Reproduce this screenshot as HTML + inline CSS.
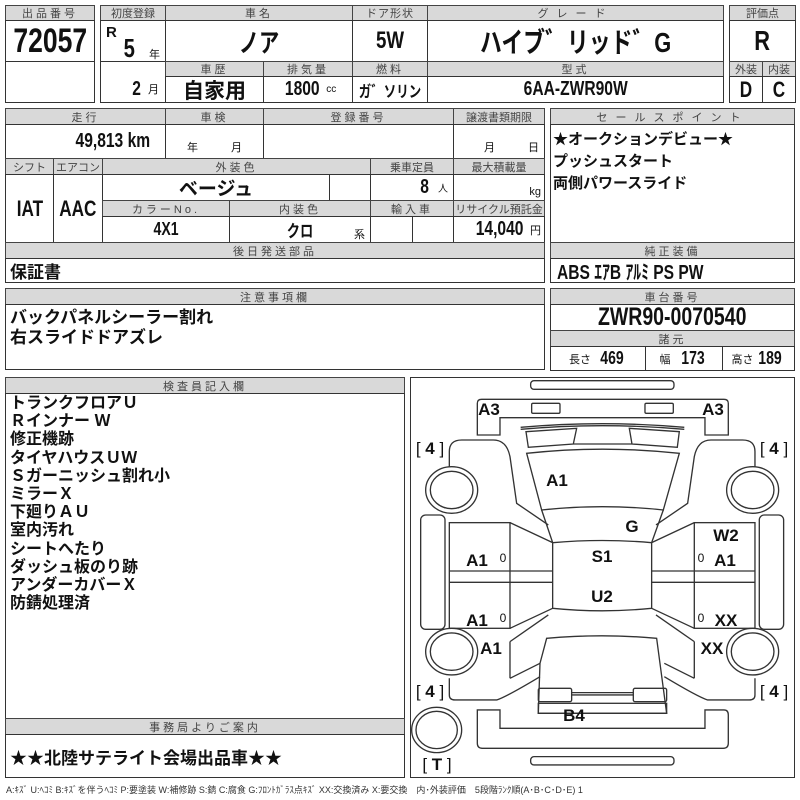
<!DOCTYPE html>
<html><head><meta charset="utf-8"><style>
*{margin:0;padding:0}
body{width:800px;height:800px;background:#fff;position:relative;overflow:hidden;font-family:"Liberation Sans","Noto Sans CJK JP",sans-serif;color:#111}
.c{position:absolute;box-sizing:border-box;border:1px solid #333;display:flex;align-items:center;justify-content:center;white-space:nowrap}
.g{background:#d9d9d9;font-size:11px;color:#444;letter-spacing:3px;border-color:#444}
.b{font-weight:bold}
.n{display:inline-block;transform:scaleX(.78);font-weight:bold}
.t{position:absolute;white-space:nowrap}
.lab{position:absolute;font-weight:bold;font-size:17px;transform:translate(-50%,-50%);white-space:nowrap}
</style></head><body>
<div class="c g" style="left:5px;top:5px;width:90px;height:16px">出品番号</div>
<div class="c" style="left:5px;top:20px;width:90px;height:42px;font-size:34px"><span class="n">72057</span></div>
<div class="c" style="left:5px;top:61px;width:90px;height:42px"></div>
<div class="c g" style="left:100px;top:5px;width:66px;height:16px;letter-spacing:0">初度登録</div>
<div class="c" style="left:100px;top:20px;width:66px;height:42px"></div>
<div class="t b" style="left:106px;top:24px;font-size:15px">R</div>
<div class="t" style="left:122px;top:33px;font-size:26px"><span class="n">5</span></div>
<div class="t" style="left:149px;top:46px;font-size:11px">年</div>
<div class="c" style="left:100px;top:61px;width:66px;height:42px;justify-content:flex-end;padding-right:6px;padding-top:14px;font-size:20px"><span class="n">2</span><span style="font-size:11px;margin-left:6px">月</span></div>
<div class="c g" style="left:165px;top:5px;width:188px;height:16px">車名</div>
<div class="c" style="left:165px;top:20px;width:188px;height:42px;font-size:26px"><span class="n">ノア</span></div>
<div class="c g" style="left:352px;top:5px;width:76px;height:16px;letter-spacing:1px">ドア形状</div>
<div class="c" style="left:352px;top:20px;width:76px;height:42px;font-size:24px"><span class="n">5W</span></div>
<div class="c g" style="left:427px;top:5px;width:297px;height:16px;letter-spacing:8px">グレード</div>
<div class="c" style="left:427px;top:20px;width:297px;height:42px;font-size:28px"><span class="n">ハイブ゛リッド゛G</span></div>
<div class="c g" style="left:165px;top:61px;width:99px;height:16px">車歴</div>
<div class="c" style="left:165px;top:76px;width:99px;height:27px;font-size:21px;font-weight:bold">自家用</div>
<div class="c g" style="left:263px;top:61px;width:90px;height:16px">排気量</div>
<div class="c" style="left:263px;top:76px;width:90px;height:27px;font-size:20px"><span class="n">1800</span><span style="font-size:10px;margin-left:2px">cc</span></div>
<div class="c g" style="left:352px;top:61px;width:76px;height:16px">燃料</div>
<div class="c" style="left:352px;top:76px;width:76px;height:27px;font-size:16px"><span class="n">ガ゛ソリン</span></div>
<div class="c g" style="left:427px;top:61px;width:297px;height:16px">型式</div>
<div class="c" style="left:427px;top:76px;width:297px;height:27px;font-size:20px"><span class="n">6AA-ZWR90W</span></div>
<div class="c g" style="left:729px;top:5px;width:67px;height:16px;letter-spacing:0">評価点</div>
<div class="c" style="left:729px;top:20px;width:67px;height:42px;font-size:28px"><span class="n">R</span></div>
<div class="c g" style="left:729px;top:61px;width:34px;height:16px;letter-spacing:0">外装</div>
<div class="c g" style="left:762px;top:61px;width:34px;height:16px;letter-spacing:0">内装</div>
<div class="c" style="left:729px;top:76px;width:34px;height:27px;font-size:22px"><span class="n">D</span></div>
<div class="c" style="left:762px;top:76px;width:34px;height:27px;font-size:22px"><span class="n">C</span></div>
<div class="c g" style="left:5px;top:108px;width:161px;height:17px">走行</div>
<div class="c g" style="left:165px;top:108px;width:99px;height:17px">車検</div>
<div class="c g" style="left:263px;top:108px;width:191px;height:17px">登録番号</div>
<div class="c g" style="left:453px;top:108px;width:92px;height:17px;letter-spacing:0">譲渡書類期限</div>
<div class="c" style="left:5px;top:124px;width:161px;height:35px;justify-content:flex-end;padding-right:4px;font-size:20px"><span class="n">49,813 km</span></div>
<div class="c" style="left:165px;top:124px;width:99px;height:35px;align-items:flex-end;font-size:11px;padding-bottom:3px">年　　　月</div>
<div class="c" style="left:263px;top:124px;width:191px;height:35px"></div>
<div class="c" style="left:453px;top:124px;width:92px;height:35px;align-items:flex-end;justify-content:flex-end;font-size:11px;padding:0 5px 3px 0">月　　　日</div>
<div class="c g" style="left:5px;top:158px;width:49px;height:17px;letter-spacing:0">シフト</div>
<div class="c g" style="left:53px;top:158px;width:50px;height:17px;letter-spacing:0">エアコン</div>
<div class="c g" style="left:102px;top:158px;width:269px;height:17px">外装色</div>
<div class="c g" style="left:370px;top:158px;width:84px;height:17px;letter-spacing:0">乗車定員</div>
<div class="c g" style="left:453px;top:158px;width:92px;height:17px;letter-spacing:0">最大積載量</div>
<div class="c" style="left:5px;top:174px;width:49px;height:69px;font-size:22px"><span class="n">IAT</span></div>
<div class="c" style="left:53px;top:174px;width:50px;height:69px;font-size:22px"><span class="n">AAC</span></div>
<div class="c" style="left:102px;top:174px;width:228px;height:27px;font-size:19px;font-weight:bold">ベージュ</div>
<div class="c" style="left:329px;top:174px;width:42px;height:27px"></div>
<div class="c" style="left:370px;top:174px;width:84px;height:27px;justify-content:flex-end;padding-right:5px;font-size:20px"><span class="n">8</span><span style="font-size:10px;margin-left:8px">人</span></div>
<div class="c" style="left:453px;top:174px;width:92px;height:27px;justify-content:flex-end;align-items:flex-end;padding:0 3px 2px 0;font-size:11px">kg</div>
<div class="c g" style="left:102px;top:200px;width:128px;height:17px">カラーNo.</div>
<div class="c g" style="left:229px;top:200px;width:142px;height:17px">内装色</div>
<div class="c g" style="left:370px;top:200px;width:84px;height:17px">輸入車</div>
<div class="c g" style="left:453px;top:200px;width:92px;height:17px;letter-spacing:0">リサイクル預託金</div>
<div class="c" style="left:102px;top:216px;width:128px;height:27px;font-size:18px"><span class="n">4X1</span></div>
<div class="c" style="left:229px;top:216px;width:142px;height:27px;font-size:17px"><span class="n">クロ</span></div>
<div class="t" style="left:354px;top:226px;font-size:11px">系</div>
<div class="c" style="left:370px;top:216px;width:43px;height:27px"></div>
<div class="c" style="left:412px;top:216px;width:42px;height:27px"></div>
<div class="c" style="left:453px;top:216px;width:92px;height:27px;justify-content:flex-end;padding-right:3px;font-size:20px"><span class="n">14,040</span><span style="font-size:11px">円</span></div>
<div class="c g" style="left:5px;top:242px;width:540px;height:17px">後日発送部品</div>
<div class="c" style="left:5px;top:258px;width:540px;height:25px;justify-content:flex-start;padding-left:4px;font-size:17px;font-weight:bold">保証書</div>
<div class="c g" style="left:550px;top:108px;width:245px;height:17px;letter-spacing:8px">セールスポイント</div>
<div class="c" style="left:550px;top:124px;width:245px;height:119px;display:block;padding:4px 0 0 2px;font-size:15px;font-weight:bold;line-height:22px">★オークションデビュー★<br>プッシュスタート<br>両側パワースライド</div>
<div class="c g" style="left:550px;top:242px;width:245px;height:17px">純正装備</div>
<div class="c" style="left:550px;top:258px;width:245px;height:25px;justify-content:flex-start;padding-left:6px;font-size:20px"><span class="n" style="transform-origin:left">ABS ｴｱB ｱﾙﾐ PS PW</span></div>
<div class="c g" style="left:5px;top:288px;width:540px;height:17px">注意事項欄</div>
<div class="c" style="left:5px;top:304px;width:540px;height:66px;display:block;padding:3px 0 0 4px;font-size:17px;font-weight:bold;line-height:20px">バックパネルシーラー割れ<br>右スライドドアズレ</div>
<div class="c g" style="left:550px;top:288px;width:245px;height:17px">車台番号</div>
<div class="c" style="left:550px;top:304px;width:245px;height:27px;font-size:25px"><span class="n">ZWR90-0070540</span></div>
<div class="c g" style="left:550px;top:330px;width:245px;height:17px">諸元</div>
<div class="c" style="left:550px;top:346px;width:96px;height:25px;font-size:18px"><span style="font-size:11px;margin-right:6px">長さ</span><span class="n">469</span></div>
<div class="c" style="left:645px;top:346px;width:78px;height:25px;font-size:18px"><span style="font-size:11px;margin-right:8px">幅</span><span class="n">173</span></div>
<div class="c" style="left:722px;top:346px;width:73px;height:25px;font-size:18px"><span style="font-size:11px;margin-right:2px">高さ</span><span class="n">189</span></div>
<div class="c g" style="left:5px;top:377px;width:400px;height:17px">検査員記入欄</div>
<div class="c" style="left:5px;top:393px;width:400px;height:326px;display:block;padding:1px 0 0 4px;font-size:16px;font-weight:bold;line-height:18.2px">トランクフロアＵ<br>Ｒインナー Ｗ<br>修正機跡<br>タイヤハウスＵＷ<br>Ｓガーニッシュ割れ小<br>ミラーＸ<br>下廻りＡＵ<br>室内汚れ<br>シートへたり<br>ダッシュ板のり跡<br>アンダーカバーＸ<br>防錆処理済</div>
<div class="c g" style="left:5px;top:718px;width:400px;height:17px">事務局よりご案内</div>
<div class="c" style="left:5px;top:734px;width:400px;height:44px;justify-content:flex-start;padding-left:4px;font-size:17px;font-weight:bold">★★北陸サテライト会場出品車★★</div>
<div class="c" style="left:410px;top:377px;width:385px;height:401px"></div>
<svg style="position:absolute;left:0;top:0" width="800" height="800">
<g transform="translate(400,370) scale(0.3333)" fill="none" stroke="#333" stroke-width="4">
<rect x="392" y="32" width="430" height="26" rx="10"/>
<rect x="392" y="1160" width="430" height="25" rx="10"/>
<path d="M232,195 L232,100 Q232,88 245,88 L972,88 Q985,88 985,100 L985,195 L915,195 L915,143 L300,143 L300,195 Z"/>
<rect x="395" y="100" width="85" height="30" rx="4"/>
<rect x="735" y="100" width="85" height="30" rx="4"/>
<path d="M232,1020 L300,1020 L300,1075 L915,1075 L915,1020 L972,1020 Q985,1020 985,1035 L985,1120 Q985,1135 970,1135 L247,1135 Q232,1135 232,1120 Z"/>
<path d="M362,172 Q606,150 853,172 M362,178 Q606,156 853,178"/>
<path d="M378,185 L530,175 L520,222 L385,232 Z M688,175 L838,185 L832,232 L696,222 Z M520,222 L696,222"/>
<path d="M380,250 Q606,225 838,250 L790,420 Q606,400 425,420 Z"/>
<path d="M425,420 L458,518 M790,420 L755,518"/>
<path d="M458,518 Q606,505 755,518 L755,715 Q606,730 458,715 Z"/>
<path d="M440,805 Q606,790 770,805 L800,1030 L415,1030 L420,880 Z"/>
<rect x="415" y="955" width="100" height="40" rx="5"/>
<rect x="700" y="955" width="100" height="40" rx="5"/>
<path d="M515,968 L700,968 M515,975 L700,975"/>
<rect x="415" y="1000" width="385" height="30"/>
<g id="side">
<path d="M148,290 L148,245 Q148,210 185,210 L280,210 Q320,210 330,260 L350,400 L445,465"/>
<path d="M148,925 L148,975 Q148,990 165,990 L290,990 Q320,980 420,920"/>
<path d="M330,815 L445,735 M330,925 L330,815 M330,925 L420,880"/>
<ellipse cx="155" cy="360" rx="78" ry="70"/>
<ellipse cx="155" cy="360" rx="64" ry="56"/>
<ellipse cx="155" cy="845" rx="78" ry="70"/>
<ellipse cx="155" cy="845" rx="64" ry="56"/>
<rect x="62" y="435" width="73" height="343" rx="15"/>
<rect x="148" y="458" width="182" height="317"/>
<path d="M148,603 L458,603 M148,637 L458,637 M330,458 L458,518 M330,775 L458,715"/>
</g>
<use href="#side" transform="translate(1213,0) scale(-1,1)"/>
<ellipse cx="110" cy="1080" rx="75" ry="68"/>
<ellipse cx="110" cy="1080" rx="62" ry="56"/>
</g>
</svg>
<div class="lab" style="left:489px;top:410px">A3</div>
<div class="lab" style="left:713px;top:410px">A3</div>
<div class="lab" style="left:430px;top:449px;font-weight:normal">[ <b>4</b> ]</div>
<div class="lab" style="left:774px;top:449px;font-weight:normal">[ <b>4</b> ]</div>
<div class="lab" style="left:430px;top:692px;font-weight:normal">[ <b>4</b> ]</div>
<div class="lab" style="left:774px;top:692px;font-weight:normal">[ <b>4</b> ]</div>
<div class="lab" style="left:437px;top:765px;font-weight:normal">[ <b>T</b> ]</div>
<div class="lab" style="left:557px;top:481px">A1</div>
<div class="lab" style="left:632px;top:527px">G</div>
<div class="lab" style="left:602px;top:557px">S1</div>
<div class="lab" style="left:602px;top:597px">U2</div>
<div class="lab" style="left:726px;top:536px">W2</div>
<div class="lab" style="left:725px;top:561px">A1</div>
<div class="lab" style="left:477px;top:561px">A1</div>
<div class="lab" style="left:477px;top:621px">A1</div>
<div class="lab" style="left:491px;top:649px">A1</div>
<div class="lab" style="left:726px;top:621px">XX</div>
<div class="lab" style="left:712px;top:649px">XX</div>
<div class="lab" style="left:574px;top:716px">B4</div>
<div class="lab" style="left:503px;top:558px;font-size:12px;font-weight:normal">0</div>
<div class="lab" style="left:503px;top:618px;font-size:12px;font-weight:normal">0</div>
<div class="lab" style="left:701px;top:558px;font-size:12px;font-weight:normal">0</div>
<div class="lab" style="left:701px;top:618px;font-size:12px;font-weight:normal">0</div>
<div class="t" style="left:6px;top:783px;font-size:9px;color:#333">A:ｷｽﾞ U:ﾍｺﾐ B:ｷｽﾞを伴うﾍｺﾐ P:要塗装 W:補修跡 S:錆 C:腐食 G:ﾌﾛﾝﾄｶﾞﾗｽ点ｷｽﾞ XX:交換済み X:要交換　内･外装評価　5段階ﾗﾝｸ順(A･B･C･D･E) 1</div>
</body></html>
